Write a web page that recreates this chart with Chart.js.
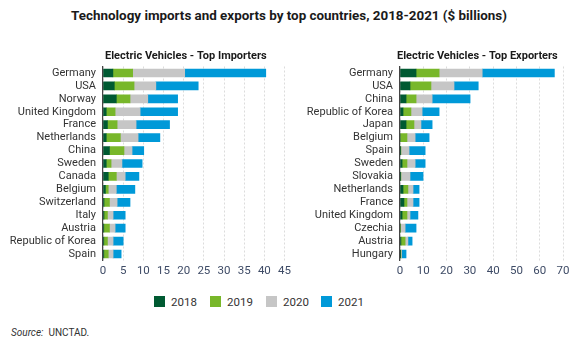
<!DOCTYPE html>
<html>
<head>
<meta charset="utf-8">
<script src="https://cdn.jsdelivr.net/npm/chart.js@4.4.0/dist/chart.umd.min.js"></script>
<style>
  body { margin:0; background:#fff; font-family:Roboto, sans-serif; }
  #wrap { position:relative; width:578px; height:351px; overflow:hidden; }
  #title { position:absolute; left:0; top:8px; width:578px; text-align:center; font:bold 13.4px Roboto, sans-serif; color:#1a1a1a; }
  .panel { position:absolute; top:44px; height:240px; }
  .legend { position:absolute; top:295px; left:0; width:578px; font-size:11.5px; color:#333; }
  .legend span { position:absolute; top:0; }
  .legend i { display:inline-block; width:11px; height:11px; vertical-align:-1px; margin-right:6px; }
  #source { position:absolute; left:11px; top:327px; font-size:10px; color:#333; }
</style>
</head>
<body>
<div id="wrap">
  <div id="title">Technology imports and exports by top countries, 2018-2021 ($ billions)</div>
  <div class="panel" style="left:0;width:295px"><canvas id="imp"></canvas></div>
  <div class="panel" style="left:295px;width:283px"><canvas id="exp"></canvas></div>
  <div class="legend" id="legend"></div>
  <div id="source"><i>Source:</i>&nbsp; UNCTAD.</div>
</div>
<script>
const years = ['2018', '2019', '2020', '2021'];
const colors = ['#005a32', '#78b72a', '#c6c6c6', '#0099d8'];

const importCountries = ['Germany', 'USA', 'Norway', 'United Kingdom', 'France', 'Netherlands', 'China', 'Sweden', 'Canada', 'Belgium', 'Switzerland', 'Italy', 'Austria', 'Republic of Korea', 'Spain'];
const imp2018 = [2.45, 2.8, 3.3, 0.8, 1.1, 0.8, 1.6, 0.8, 1.3, 0.6, 0.25, 0.25, 0.2, 0.2, 0.2];
const imp2019 = [4.9, 4.9, 3.4, 2.2, 2.4, 3.5, 3.6, 1.2, 2.0, 0.7, 1.35, 0.85, 1.4, 0.9, 1.1];
const imp2020 = [12.9, 5.4, 4.4, 6.2, 4.7, 4.4, 2.0, 2.7, 2.2, 2.0, 1.9, 1.4, 1.4, 1.4, 1.2];
const imp2021 = [20.1, 10.5, 7.4, 9.3, 8.3, 5.4, 2.9, 5.0, 3.4, 4.6, 3.2, 3.0, 2.5, 2.5, 2.0];
const impTicks = [0, 5, 10, 15, 20, 25, 30, 35, 40, 45];

const exportCountries = ['Germany', 'USA', 'China', 'Republic of Korea', 'Japan', 'Belgium', 'Spain', 'Sweden', 'Slovakia', 'Netherlands', 'France', 'United Kingdom', 'Czechia', 'Austria', 'Hungary'];
const exp2018 = [6.9, 4.3, 2.6, 1.3, 2.6, 0, 0.05, 0.9, 0.1, 1.3, 1.7, 0.9, 0, 0.4, 0.1];
const exp2019 = [9.9, 9.0, 4.3, 3.4, 3.4, 3.0, 0.35, 2.1, 0.3, 2.1, 1.3, 2.1, 0.1, 1.8, 0.3];
const exp2020 = [18.5, 9.9, 6.9, 4.8, 3.0, 3.5, 3.5, 3.5, 3.9, 2.2, 2.6, 1.3, 2.1, 1.2, 0.3];
const exp2021 = [31.0, 10.4, 16.3, 7.3, 4.8, 6.0, 6.9, 4.3, 5.6, 2.6, 2.6, 3.4, 4.7, 1.8, 1.9];
const expTicks = [0, 10, 20, 30, 40, 50, 60, 70];

const FONT = "Roboto, sans-serif";

const panelTitle = {
    id: 'panelTitle',
    afterDraw(chart, args, opts) {
        const ctx = chart.ctx;
        ctx.save();
        ctx.font = 'bold 11px ' + FONT;
        ctx.fillStyle = '#1a1a1a';
        ctx.textBaseline = 'middle';
        ctx.fillText(opts.text, chart.chartArea.left + opts.dx, 12);
        ctx.restore();
    }
};

function makeChart(id, labels, series, ticks, yWidth, padRight, title, dx) {
    const ctx = document.getElementById(id).getContext('2d');
    return new Chart(ctx, {
        type: 'bar',
        data: {
            labels: labels,
            datasets: series.map((s, i) => ({
                label: years[i],
                data: s,
                backgroundColor: colors[i],
                barThickness: 8
            }))
        },
        options: {
            indexAxis: 'y',
            responsive: true,
            maintainAspectRatio: false,
            animation: false,
            layout: { padding: { top: 22.5, right: padRight, left: 0, bottom: 0 } },
            plugins: {
                legend: { display: false },
                tooltip: { enabled: false },
                panelTitle: { text: title, dx: dx }
            },
            scales: {
                x: {
                    stacked: true,
                    min: 0,
                    max: ticks[ticks.length - 1],
                    afterBuildTicks: sc => { sc.ticks = ticks.map(v => ({ value: v })); },
                    afterFit: sc => { sc.height = 23.5; },
                    grid: { color: '#dcdcdc', drawTicks: false, lineWidth: 1 },
                    border: { display: false, dash: [2, 2] },
                    ticks: { color: '#3e4b66', font: { family: FONT, size: 11.5 }, padding: 4 }
                },
                y: {
                    stacked: true,
                    afterFit: sc => { sc.width = yWidth; },
                    grid: { display: false, drawTicks: false },
                    border: { display: true, color: '#444', width: 1.2, z: 1 },
                    ticks: { color: '#333', font: { family: FONT, size: 11 }, padding: 7, autoSkip: false }
                }
            }
        },
        plugins: [panelTitle]
    });
}

makeChart('imp', importCountries, [imp2018, imp2019, imp2020, imp2021], impTicks, 103, 9, 'Electric Vehicles - Top Importers', 2);
makeChart('exp', exportCountries, [exp2018, exp2019, exp2020, exp2021], expTicks, 105, 15, 'Electric Vehicles - Top Exporters', -3);

const legendX = [154, 210, 266, 321];
document.getElementById('legend').innerHTML = years.map((y, i) =>
    `<span style="left:${legendX[i]}px"><i style="background:${colors[i]}"></i>${y}</span>`
).join('');
</script>
</body>
</html>
